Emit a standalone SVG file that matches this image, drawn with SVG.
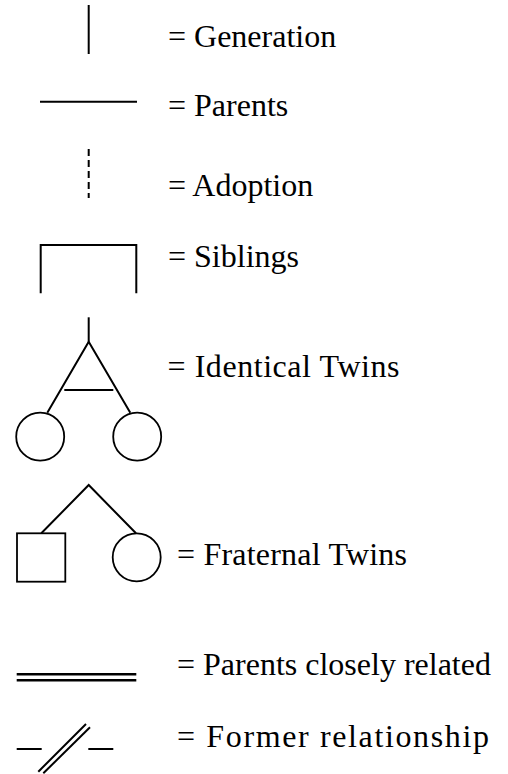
<svg xmlns="http://www.w3.org/2000/svg" width="508" height="774" viewBox="0 0 508 774">
<style>
.ln{stroke:#000;stroke-width:2;fill:none}
.dl{stroke:#000;stroke-width:2.5;fill:none}
.sh{stroke:#000;stroke-width:1.8;fill:#fff}
.lb{font-family:"Liberation Serif","Times New Roman",serif;font-size:32px;fill:#000}
</style>
<rect width="508" height="774" fill="#fff"/>
<g id="connectors">
<line class="ln" x1="88.7" y1="5" x2="88.7" y2="54"/>
<line class="ln" x1="40" y1="101.7" x2="137" y2="101.7"/>
<line class="ln" x1="88.7" y1="149" x2="88.7" y2="198" stroke-dasharray="7,4"/>
<polyline class="ln" points="40.7,293.3 40.7,245 136.3,245 136.3,293.3"/>
<polyline class="ln" points="88.7,317.3 88.7,341.7"/>
<polyline class="ln" points="47.3,412.7 88.7,341.7 130.3,412.7"/>
<line class="ln" x1="64.3" y1="390" x2="113.3" y2="390"/>
<polyline class="ln" points="41.3,533.3 88.7,485 136,533.3"/>
<line class="dl" x1="16.7" y1="674.3" x2="136.3" y2="674.3"/>
<line class="dl" x1="16.7" y1="680.3" x2="136.3" y2="680.3"/>
<line class="ln" x1="16.7" y1="749" x2="41.7" y2="749"/>
<line class="ln" x1="88.3" y1="749" x2="113.3" y2="749"/>
<line class="ln" x1="38.3" y1="771.7" x2="86" y2="724"/>
<line class="ln" x1="43.3" y1="773.3" x2="90" y2="727.3"/>
</g>
<g id="twin-left-identical"><circle class="sh" cx="40.2" cy="436.7" r="24"/></g>
<g id="twin-right-identical"><circle class="sh" cx="137.2" cy="436.7" r="24"/></g>
<g id="twin-square-fraternal"><rect class="sh" x="17" y="533.3" width="48.3" height="48.4"/></g>
<g id="twin-circle-fraternal"><circle class="sh" cx="136.7" cy="557.3" r="24"/></g>
<g id="labels">
<text class="lb" x="168" y="46.5">= Generation</text>
<text class="lb" x="168" y="116">= Parents</text>
<text class="lb" x="168" y="196">= Adoption</text>
<text class="lb" x="168" y="266.7">= Siblings</text>
<text class="lb" x="167.5" y="376.7" textLength="232" lengthAdjust="spacing">= Identical Twins</text>
<text class="lb" x="177" y="565" textLength="230" lengthAdjust="spacing">= Fraternal Twins</text>
<text class="lb" x="177" y="675">= Parents closely related</text>
<text class="lb" x="177" y="747" textLength="312" lengthAdjust="spacing">= Former relationship</text>
</g>
</svg>
